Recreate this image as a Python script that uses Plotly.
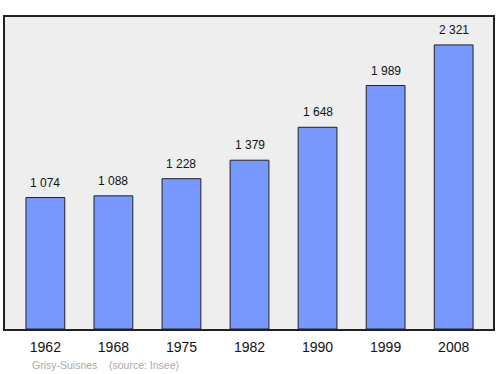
import plotly.graph_objects as go

years = ["1962", "1968", "1975", "1982", "1990", "1999", "2008"]
population = [1074, 1088, 1228, 1379, 1648, 1989, 2321]

labels = [f"{v:,}".replace(",", " ") for v in population]
xpos = list(range(len(years)))
FONT = "Liberation Sans, Arial, sans-serif"

fig = go.Figure()
fig.add_trace(go.Bar(
    x=xpos, y=population, width=0.57,
    marker=dict(color="#7799ff", line=dict(color="#222222", width=1)),
))

annotations = [dict(x=x, y=v, text=t, xref="x", yref="y", showarrow=False,
                    yanchor="bottom", yshift=6,
                    font=dict(family=FONT, size=12, color="#111111"))
               for x, v, t in zip(xpos, population, labels)]
annotations.append(dict(text="Grisy-Suisnes    (source: Insee)", xref="x domain", yref="y domain",
                        x=0.0515, y=-0.115, xanchor="left", yanchor="middle", showarrow=False,
                        font=dict(family=FONT, size=10.5, color="#aaaaaa")))

fig.update_layout(
    width=500, height=374,
    margin=dict(l=5, r=5, t=17, b=45),
    paper_bgcolor="white", plot_bgcolor="#eeeeee",
    showlegend=False,
    xaxis=dict(range=[-0.593, 6.578], tickmode="array", tickvals=xpos, ticktext=years,
               showgrid=False, zeroline=False, showline=True, linecolor="#222222", linewidth=1.5,
               mirror=True, ticks="outside", ticklen=4, tickcolor="rgba(0,0,0,0)",
               tickfont=dict(family=FONT, size=14, color="#111111")),
    yaxis=dict(range=[0, 2549], showgrid=False, zeroline=False, showticklabels=False,
               showline=True, linecolor="#222222", linewidth=1.5, mirror=True, ticks=""),
    annotations=annotations,
)

fig.write_html("out.html")
